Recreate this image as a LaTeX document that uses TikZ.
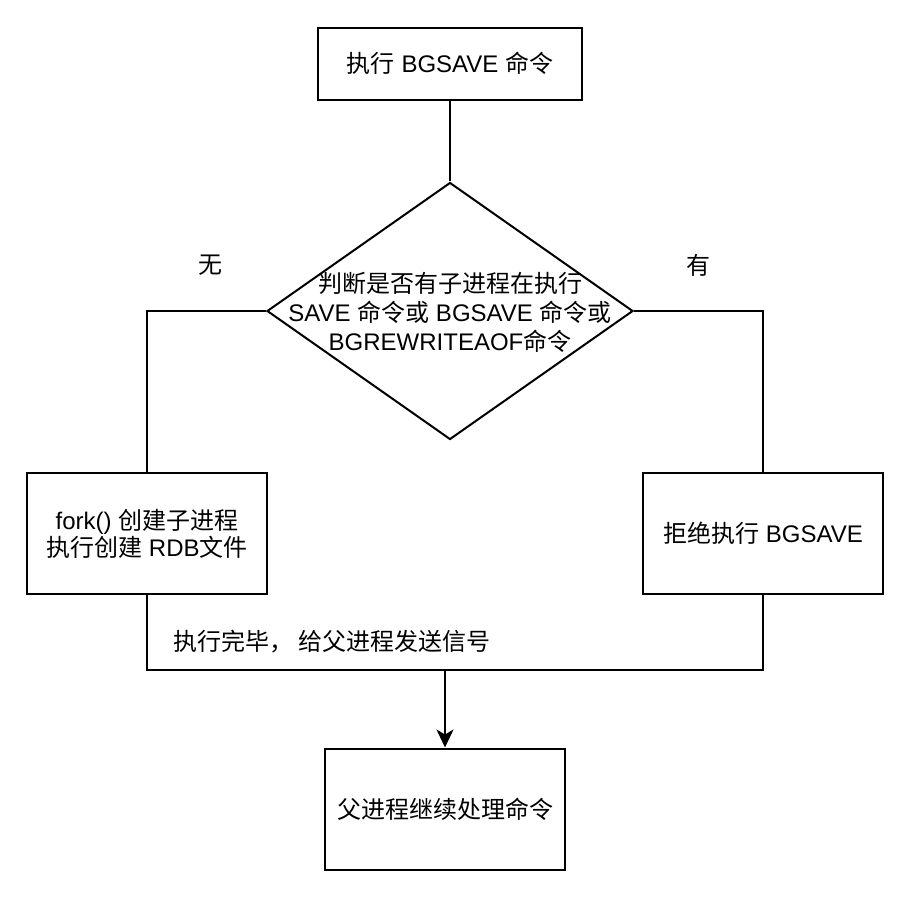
\documentclass[tikz,border=0pt]{standalone}
\usepackage{fontspec}
\setmainfont{Liberation Sans}
\newfontfamily\cjk{Noto Sans CJK SC}
\usetikzlibrary{shapes.geometric,arrows.meta}

\begin{document}
\begin{tikzpicture}[x=0.5pt, y=-0.5pt,
        box/.style={draw, line width=1pt, inner sep=0pt, minimum width=120pt, minimum height=60.5pt, align=center, font=\fontsize{12}{13.5}\selectfont},
        decision/.style={draw, diamond, line width=1pt, inner sep=0pt, minimum width=183pt, minimum height=128.5pt, font=\fontsize{12}{14.5}\selectfont},
        link/.style={line width=1pt},
        tag/.style={inner sep=0pt, font=\fontsize{12}{14}\selectfont}]
        \path[use as bounding box] (0,0) rectangle (922,916);

        \node[box, minimum width=132pt, minimum height=36pt] (start) at (450,63.5) {{\cjk 执行} BGSAVE {\cjk 命令}};
        \node[decision] (check) at (450,311) {\makebox[0pt]{\smash{\raisebox{-5.5pt}{\begin{tabular}{@{}c@{}}{\cjk 判断是否有子进程在执行}\\SAVE {\cjk 命令或} BGSAVE {\cjk 命令或}\\BGREWRITEAOF{\cjk 命令}\end{tabular}}}}};
        \node[box] (fork) at (147,533.5) {fork() {\cjk 创建子进程}\\{\cjk 执行创建} RDB{\cjk 文件}};
        \node[box] (refuse) at (763,533.5) {{\cjk 拒绝执行} BGSAVE};
        \node[box] (parent) at (445,809) {\cjk 父进程继续处理命令};

        \node[tag] (none) at (210,265) {\cjk 无};
        \node[tag] (busy) at (698,265) {\cjk 有};
        \node[tag, anchor=west] (done) at (173,642) {\cjk 执行完毕， 给父进程发送信号};

        \coordinate (join) at (445,670);
        \draw[link] (start) -- (check);
        \draw[link] (check.west) -| (fork.north);
        \draw[link] (check.east) -| (refuse.north);
        \draw[link] (fork.south) |- (join) -| (refuse.south);
        \draw[link, -{Stealth[length=9pt, width=8.5pt, inset=2.5pt]}] (join) -- (parent);
    \end{tikzpicture}
\end{document}
